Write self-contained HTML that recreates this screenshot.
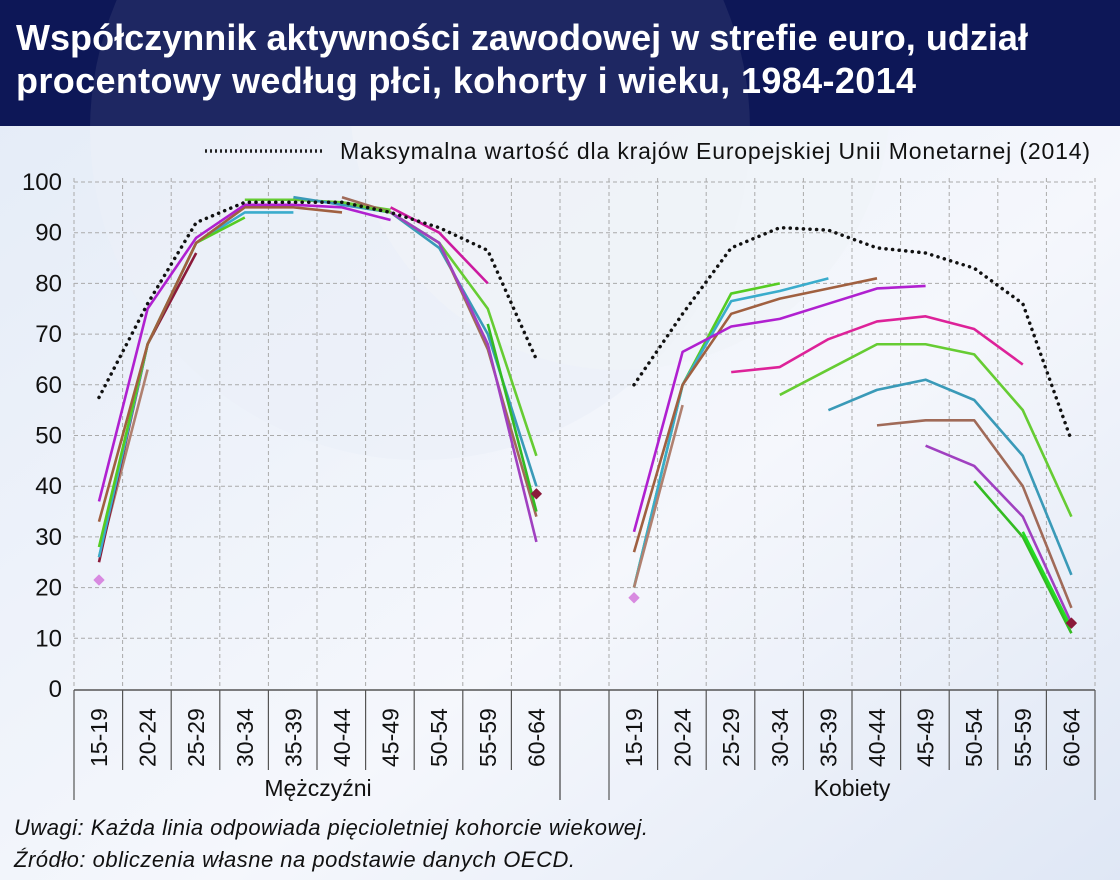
<!DOCTYPE html><html><head><meta charset="utf-8"><style>body{margin:0}svg{display:block}</style></head><body>
<svg width="1120" height="880" xmlns="http://www.w3.org/2000/svg" font-family="Liberation Sans, sans-serif">
<defs><linearGradient id="bg" x1="0" y1="0" x2="1" y2="1"><stop offset="0" stop-color="#e3ebf7"/><stop offset="0.6" stop-color="#f5f7fc"/><stop offset="1" stop-color="#dfe7f5"/></linearGradient></defs>
<rect width="1120" height="880" fill="url(#bg)"/>
<circle cx="420" cy="130" r="330" fill="#e9eef8" opacity="0.7"/>
<circle cx="620" cy="100" r="270" fill="#f0f3f8" opacity="0.7"/>
<rect width="1120" height="126" fill="#0d1757"/>
<circle cx="420" cy="130" r="330" fill="#ffffff" opacity="0.07"/>
<g fill="#fff" font-weight="bold" font-size="36"><text x="16" y="50" textLength="1012">Współczynnik aktywności zawodowej w strefie euro, udział</text><text x="16" y="93" textLength="900">procentowy według płci, kohorty i wieku, 1984-2014</text></g>
<line x1="205" y1="151" x2="325" y2="151" stroke="#222" stroke-width="3.5" stroke-dasharray="2,3"/>
<text x="340" y="159" font-size="23" fill="#111" textLength="750">Maksymalna wartość dla krajów Europejskiej Unii Monetarnej (2014)</text>
<g stroke="#aaa" stroke-dasharray="4,3" stroke-width="1" id="grid"></g>
<g font-size="24" fill="#111" text-anchor="end" id="ylab"></g>
<g id="xax"></g>
<g id="series" fill="none" stroke-width="2.6" stroke-linejoin="round"></g>
<text x="318" y="796" font-size="23" text-anchor="middle" fill="#111">Mężczyźni</text>
<text x="852" y="796" font-size="23" text-anchor="middle" fill="#111">Kobiety</text>
<g font-size="22" font-style="italic" fill="#111"><text x="14" y="835" textLength="634">Uwagi: Każda linia odpowiada pięcioletniej kohorcie wiekowej.</text><text x="14" y="867" textLength="561">Źródło: obliczenia własne na podstawie danych OECD.</text></g>
</svg>
<script>
const NS="http://www.w3.org/2000/svg";
function el(p,t,a,txt){const e=document.createElementNS(NS,t);for(const k in a)e.setAttribute(k,a[k]);if(txt!==undefined)e.textContent=txt;document.getElementById(p).appendChild(e);return e;}
const Y=v=>689-5.07*v;
const L=i=>99+48.6*i, R=i=>634+48.6*i;
for(let v=0;v<=100;v+=10){if(v>0)el("grid","line",{x1:74,x2:1095,y1:Y(v),y2:Y(v)});el("ylab","text",{x:62,y:Y(v)+8},v);}
for(let i=0;i<=10;i++){el("grid","line",{x1:74+48.6*i,x2:74+48.6*i,y1:178,y2:689});el("grid","line",{x1:609+48.6*i,x2:609+48.6*i,y1:178,y2:689});}
el("xax","line",{x1:74,x2:1095,y1:690,y2:690,stroke:"#555","stroke-width":1.5});
const labs=["15-19","20-24","25-29","30-34","35-39","40-44","45-49","50-54","55-59","60-64"];
for(let i=0;i<=10;i++){[74,609].forEach(b=>{const x=b+48.6*i;const long=(i==0||i==10);el("xax","line",{x1:x,x2:x,y1:690,y2:long?800:770,stroke:"#555","stroke-width":1.2});});}
el("xax","line",{x1:560,x2:560,y1:690,y2:800,stroke:"#555","stroke-width":1.2});
labs.forEach((l,i)=>{[L(i),R(i)].forEach(x=>{el("xax","text",{x:0,y:0,transform:`translate(${x+8},767) rotate(-90)`,"font-size":23,fill:"#111"},l);});});
function line(f,start,vals,col,w,dash){const pts=vals.map((v,k)=>f(start+k)+","+Y(v)).join(" ");const a={points:pts,stroke:col};if(w)a["stroke-width"]=w;if(dash){a["stroke-dasharray"]=dash;a["stroke-linecap"]="round";}el("series","polyline",a);}
// men
line(L,0,[26,63],"#b08070",2.6);
line(L,0,[25,68,86],"#8b1a3a");
line(L,0,[26,68,88,94,94],"#3aaccc");
line(L,0,[28,68,88,93],"#55cc22");
line(L,0,[33,68,88,95,95,94],"#a06040");
line(L,0,[37,75,89,95.5,95.5,95,92.5],"#b020d0");
line(L,3,[96.5,96.5,96,94.5],"#66cc33");
line(L,4,[97,95.5,94,87,70,40],"#3a9ab8");
line(L,5,[97,94,88,67,34],"#a06a58");
line(L,5,[96,94,88,75,46],"#66cc33");
line(L,6,[95,90,80],"#cc1aa0");
line(L,6,[94,88,68,29],"#a040c0");
line(L,8,[72,35],"#33bb22");
line(L,0,[57.5,76,92,96,96,96,94,91,86.5,65],"#111",3.5,"0.1,6.5");
// women
line(R,0,[20,60,78,80],"#55cc22");
line(R,0,[20,60,76.5,78.5,81],"#3aaccc");
line(R,0,[27,60,74,77,79,81],"#a06040");
line(R,0,[20,56],"#b08070");
line(R,0,[31,66.5,71.5,73,76,79,79.5],"#b020d0");
line(R,2,[62.5,63.5,69,72.5,73.5,71,64],"#dd2299");
line(R,3,[58,63,68,68,66,55,34],"#66cc33");
line(R,4,[55,59,61,57,46,22.5],"#3a9ab8");
line(R,5,[52,53,53,40,16],"#a06a58");
line(R,6,[48,44,34,13],"#a040c0");
line(R,7,[41,30,11],"#33bb22");
line(R,8,[31,12],"#22dd22");
line(R,0,[60,74,87,91,90.5,87,86,83,76,49],"#111",3.5,"0.1,6.5");
function dia(x,v,c){const y=Y(v);el("series","polygon",{points:`${x-5},${y} ${x},${y-5} ${x+5},${y} ${x},${y+5}`,fill:c,stroke:c,"stroke-width":1});}
dia(L(0),21.5,"#d88ae0");dia(L(9),38.5,"#8b1a3a");dia(R(0),18,"#d88ae0");dia(R(9),13,"#8b1a3a");
</script>
</body></html>
